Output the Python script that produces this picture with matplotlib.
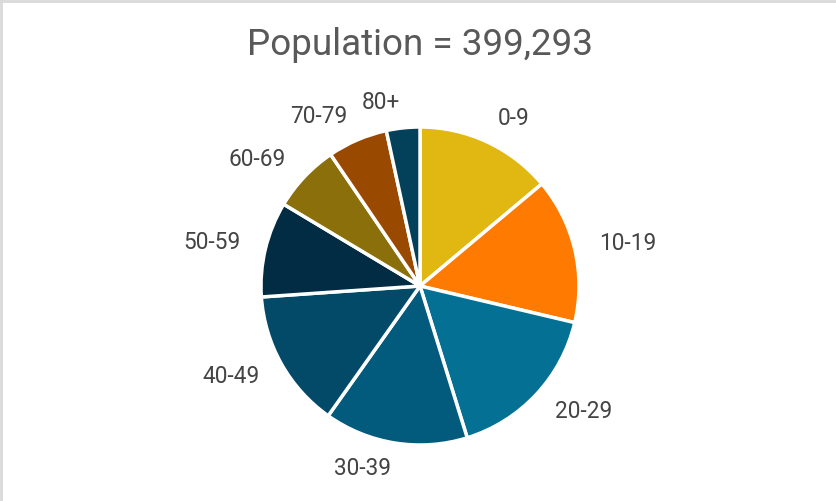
import matplotlib
matplotlib.use("Agg")
import matplotlib.pyplot as plt
from matplotlib.lines import Line2D

title = "Population = 399,293"
categories = ["0-9", "10-19", "20-29", "30-39", "40-49", "50-59", "60-69", "70-79", "80+"]
shares = [13.9, 14.8, 16.5, 14.6, 14.1, 9.7, 6.9, 6.1, 3.4]
colors = ["#E1B812", "#FF7A00", "#047194", "#025B7C", "#034A68",
          "#022B44", "#8A6F0A", "#9A4A00", "#03405A"]

plt.rcParams['font.family'] = ['Roboto', 'DejaVu Sans']

W, H = 837, 501
fig = plt.figure(figsize=(W / 100, H / 100), dpi=100)
fig.patch.set_facecolor("white")

cx, cy, r = 420, 286, 159
ax = fig.add_axes([(cx - r) / W, (H - cy - r) / H, 2 * r / W, 2 * r / H])
wedges, texts = ax.pie(shares, labels=categories, colors=colors, startangle=90,
                       counterclock=False, labeldistance=1.16,
                       wedgeprops=dict(edgecolor="white", linewidth=2.5),
                       textprops=dict(fontsize=16.3, color="#444444"))
ax.set_xlim(-1, 1)
ax.set_ylim(-1, 1)
ax.set_aspect("equal")
ax.axis("off")

fig.text(cx / W, 1 - 45 / H, title, ha="center", va="center",
         fontsize=26.5, color="#595959")

# light frame lines on top and left edges
fig.add_artist(Line2D([0, 1], [1 - 1 / H, 1 - 1 / H], transform=fig.transFigure,
                      color="#D9D9D9", linewidth=2))
fig.add_artist(Line2D([1 / W, 1 / W], [0, 1], transform=fig.transFigure,
                      color="#D9D9D9", linewidth=2))

fig.savefig("out.png", dpi=100, facecolor="white")
